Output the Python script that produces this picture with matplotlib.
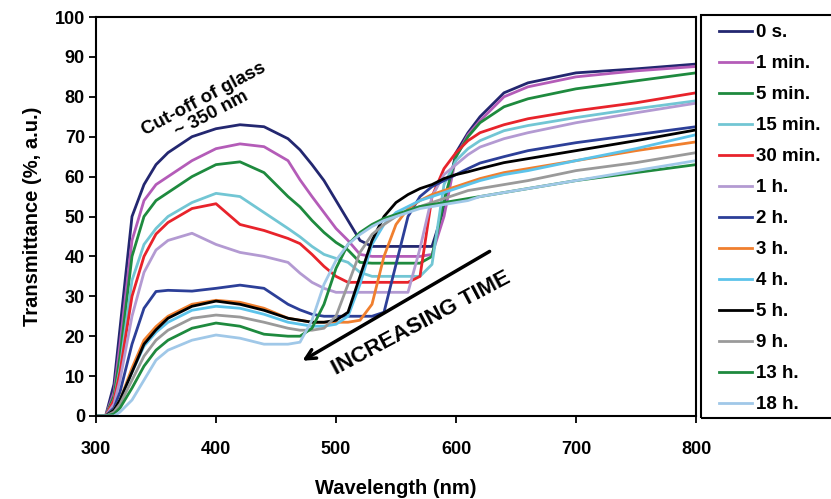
import numpy as np
import matplotlib
matplotlib.use("Agg")
import matplotlib.pyplot as plt
from matplotlib.patches import Rectangle

plt.rcParams['font.family'] = ['Liberation Sans', 'DejaVu Sans']
plt.rcParams['font.weight'] = 'bold'

# wavelength grid (nm), shared by all spectra
wl = [300, 308, 315, 320, 330, 340, 350, 360, 380, 400, 420, 440, 460, 470,
      480, 490, 500, 510, 520, 530, 540, 550, 560, 570, 580, 590, 600, 610,
      620, 640, 660, 700, 750, 800]

# transmittance (%)
t_0s = [0, 0, 8, 22, 50, 58, 63, 66, 70, 72, 73, 72.5, 69.5, 66.7,
        63, 59, 54, 49, 44, 42.5, 42.5, 42.5, 42.5, 42.5, 42.5, 52, 66, 71,
        75, 81, 83.5, 86, 87, 88.2]
t_1min = [0, 0, 6, 18, 44, 54, 58, 60, 64, 67, 68.2, 67.5, 64, 59.2,
          55, 51, 47, 44, 40.5, 40, 40, 40, 40, 40, 40.5, 50, 65, 70.5,
          74, 80, 82.5, 85, 86.5, 87.6]
t_5min = [0, 0, 5, 15, 40, 50, 54, 56, 60, 63, 63.7, 61, 55, 52.4,
          49, 46, 43.5, 41.6, 38.5, 38.3, 38.3, 38.3, 38.3, 38.3, 40, 54, 65, 70,
          73.5, 77.5, 79.5, 82, 84, 86]
t_15min = [0, 0, 4, 12, 34, 43, 47, 50, 53.5, 55.8, 55, 51, 47, 44.9,
           42.5, 40.5, 39.5, 38.5, 36, 35, 35, 35, 35, 35, 38, 58, 64, 67,
           69, 71.5, 72.8, 74.8, 77, 79]
t_30min = [0, 0, 4, 11, 30, 40, 45.6, 48.5, 52, 53.2, 48, 46.5, 44.5, 43.2,
           40.5, 37.5, 35, 33.5, 33.5, 33.5, 33.5, 33.5, 33.5, 35, 55, 62, 66, 69,
           71, 73, 74.5, 76.5, 78.5, 81]
t_1h = [0, 0, 3, 9, 25, 36, 41.6, 44, 45.8, 43, 41, 40, 38.5, 35.8,
        33.5, 32, 31, 31, 31, 31, 31, 31, 31, 42, 55, 60.5, 63, 65.5,
        67.4, 69.5, 71, 73.5, 76, 78.4]
t_2h = [0, 0, 2, 6, 18, 27, 31.2, 31.5, 31.3, 32, 32.8, 32, 28, 26.6,
        25.5, 25, 25, 25, 25, 25, 26, 38, 50, 55, 57.5, 59, 60.5, 62,
        63.4, 65, 66.5, 68.5, 70.5, 72.5]
t_3h = [0, 0, 1.5, 4, 12, 19, 22.4, 25, 28, 29, 28.5, 27, 24.5, 24,
        23.5, 23.5, 23.5, 23.5, 24, 28, 40, 48, 52, 54, 55.5, 56.5, 57.5, 58.5,
        59.5, 61, 62, 64, 66.5, 68.7]
t_4h = [0, 0, 1.5, 4, 11, 17.5, 21, 23.5, 26.5, 27.5, 27, 25.5, 23.5, 23,
        22.5, 22.5, 23, 25, 33, 43, 48, 51, 52.5, 54, 55, 56, 57, 58,
        59, 60.5, 61.5, 64, 67, 70.5]
t_5h = [0, 0, 1.5, 4, 11, 18, 21.6, 24.5, 27.5, 28.8, 28, 26.5, 24.5, 24,
        23.5, 23.5, 24, 26, 35, 44, 50, 53.5, 55.5, 57, 58, 59.5, 60.5, 61.2,
        62, 63.5, 64.5, 66.5, 69, 71.7]
t_9h = [0, 0, 1, 3, 9, 15, 19, 21.5, 24.5, 25.3, 24.8, 23.5, 22, 21.5,
        21.5, 22, 25, 33, 41, 45.5, 48, 50, 51.5, 52.5, 53.5, 54.5, 55.5, 56.5,
        57, 58, 59, 61.5, 63.5, 66]
t_13h = [0, 0, 0.5, 2, 7, 12.5, 16.5, 19, 22, 23.3, 22.5, 20.5, 20, 20,
         22, 28, 37, 43, 46, 48, 49.5, 50.5, 51.5, 52.5, 53, 53.5, 54, 54.5,
         55, 56, 57, 59, 61, 63]
t_18h = [0, 0, 0, 1, 4, 9, 14, 16.5, 19, 20.3, 19.5, 18, 18, 18.5,
         24, 33, 39, 43, 45.5, 47.5, 49, 50, 51, 52, 52.5, 53, 53.5, 54,
         55, 56, 57, 59, 61.5, 64]

labels = ['0 s.', '1 min.', '5 min.', '15 min.', '30 min.', '1 h.', '2 h.',
          '3 h.', '4 h.', '5 h.', '9 h.', '13 h.', '18 h.']
series = [t_0s, t_1min, t_5min, t_15min, t_30min, t_1h, t_2h,
          t_3h, t_4h, t_5h, t_9h, t_13h, t_18h]
colors = ['#232770', '#b45cb8', '#1e8a3e', '#72c6d4', '#e8232b', '#b39ad2',
          '#2c3f98', '#f07f2e', '#5cc3ea', '#000000', '#9a9a9a', '#1e8a3e',
          '#a0c8e8']

fig = plt.figure(figsize=(8.31, 4.99), dpi=100)
ax = fig.add_axes([96 / 831, 1 - 416 / 499, 600 / 831, 399 / 499])

for y, c, lab in zip(series, colors, labels):
    ax.plot(wl, y, color=c, lw=2, label=lab)

ax.set_xlim(300, 800)
ax.set_ylim(0, 100)
ax.set_xticks(np.arange(300, 801, 100))
ax.set_yticks(np.arange(0, 101, 10))
ax.tick_params(direction='out', length=5, width=1.3, labelsize=13, pad=3)
ax.tick_params(axis='x', pad=13)
for s in ax.spines.values():
    s.set_linewidth(1.5)
ax.set_xlabel('Wavelength (nm)', fontsize=14.5, fontweight='bold', labelpad=15)
ax.set_ylabel('Transmittance (%, a.u.)', fontsize=14.5, fontweight='bold',
              labelpad=9)

# annotations
ax.text(393, 77.5, 'Cut-off of glass\n~ 350 nm', rotation=28, fontsize=13.5,
        fontweight='bold', ha='center', va='center', linespacing=1.05,
        rotation_mode='anchor')
ax.annotate('', xy=(470, 13.5), xytext=(630, 41.6),
            arrowprops=dict(arrowstyle='->,head_length=0.7,head_width=0.35',
                            color='black', lw=2.5))
ax.text(571, 23.3, 'INCREASING TIME', rotation=28, fontsize=16,
        fontweight='bold', ha='center', va='center', rotation_mode='anchor')

# legend box to the right of the plot
fig.patches.append(Rectangle((701 / 831, 1 - 418 / 499), 140 / 831, 403 / 499,
                             transform=fig.transFigure, fill=False,
                             edgecolor='black', lw=1.5))
leg = fig.legend(loc='upper left', bbox_to_anchor=(719 / 831, 1 - 24 / 499),
                 frameon=False, fontsize=13.5, handlelength=1.76,
                 handletextpad=0.2, labelspacing=0.74, borderaxespad=0,
                 borderpad=0)
for t in leg.get_texts():
    t.set_fontweight('bold')

fig.savefig('out.png', dpi=100)
